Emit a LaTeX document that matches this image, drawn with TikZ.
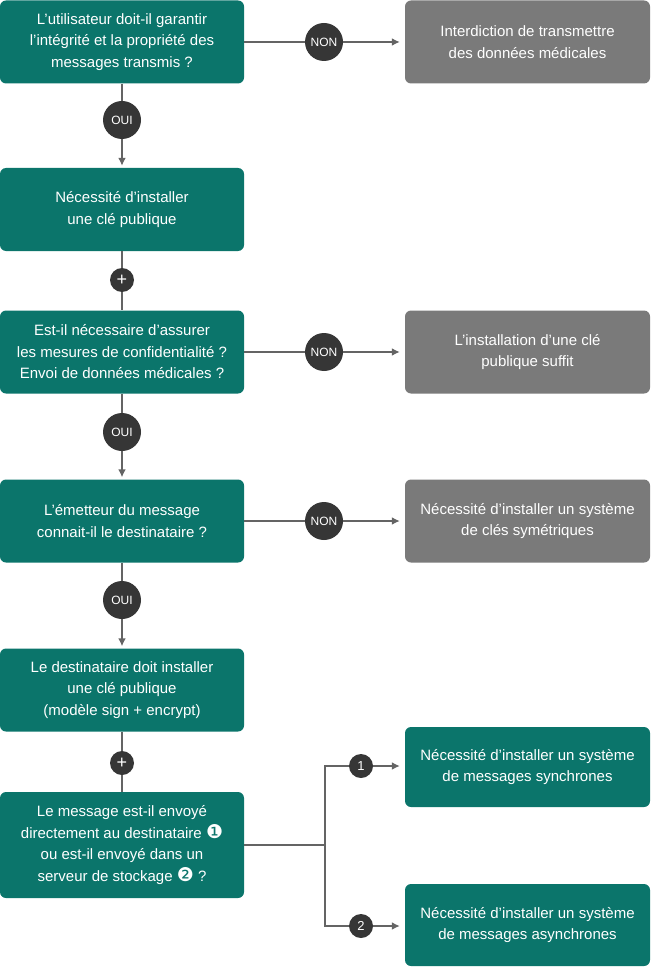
\documentclass[tikz,border=0pt]{standalone}
\usepackage{fontspec}
\setmainfont{Liberation Sans}
\newfontfamily\dejavu{DejaVu Sans}
\usetikzlibrary{arrows.meta}

\definecolor{teal1}{RGB}{11,117,107}
\definecolor{grey1}{RGB}{122,122,122}
\definecolor{dot}{RGB}{54,54,54}
\definecolor{wire}{RGB}{100,100,100}

% white dingbat number inside the question text
\newcommand{\pastille}[1]{{\dejavu\fontsize{19}{19}\selectfont\color{white}#1}}

\begin{document}
\begin{tikzpicture}[x=1pt, y=-1pt,
  every node/.style={font=\fontsize{15}{21.5}\selectfont, align=center, text=white},
  quest/.style={fill=teal1, rounded corners=6pt, minimum width=244pt, minimum height=83pt, inner sep=0pt},
  stop/.style={fill=grey1, rounded corners=6pt, minimum width=245pt, minimum height=83pt, inner sep=0pt},
  tag/.style={circle, fill=dot, minimum size=38pt, inner sep=0pt, font=\fontsize{12}{12}\selectfont},
  plus/.style={circle, fill=dot, minimum size=24pt, inner sep=0pt, font=\fontsize{18}{18}\selectfont},
  num/.style={circle, fill=dot, minimum size=24pt, inner sep=0pt, font=\fontsize{13}{13}\selectfont},
  link/.style={draw=wire, line width=1.6pt},
  arr/.style={link, -{Latex[length=8pt, width=8pt]}, shorten >=5pt}]
  \useasboundingbox (0,0) rectangle (650,968);

  \node [quest] (q1) at (122, 42) {L’utilisateur doit-il garantir\\l’intégrité et la propriété des\\messages transmis ?};
  \node [quest] (q2) at (122, 209.5) {Nécessité d’installer\\une clé publique};
  \node [quest] (q3) at (122, 352) {Est-il nécessaire d’assurer\\les mesures de confidentialité ?\\Envoi de données médicales ?};
  \node [quest] (q4) at (122, 521) {L’émetteur du message\\connait-il le destinataire ?};
  \node [quest] (q5) at (122, 690) {Le destinataire doit installer\\une clé publique\\(modèle sign + encrypt)};
  \node [quest, minimum height=106pt] (q6) at (122, 845) {Le message est-il envoyé\\directement au destinataire \pastille{❶}\\ou est-il envoyé dans un\\serveur de stockage \pastille{❷} ?};

  \node [stop] (r1) at (527.5, 42) {Interdiction de transmettre\\des données médicales};
  \node [stop] (r2) at (527.5, 352) {L’installation d’une clé\\publique suffit};
  \node [stop] (r3) at (527.5, 521) {Nécessité d’installer un système\\de clés symétriques};
  \node [quest, minimum width=245pt, minimum height=80pt] (r4) at (527.5, 767) {Nécessité d’installer un système\\de messages synchrones};
  \node [quest, minimum width=245pt, minimum height=82pt] (r5) at (527.5, 925) {Nécessité d’installer un système\\de messages asynchrones};

  \node [tag] (oui1) at (122, 120) {OUI};
  \node [tag] (oui2) at (122, 432) {OUI};
  \node [tag] (oui3) at (122, 600) {OUI};
  \node [tag] (non1) at (324, 42) {NON};
  \node [tag] (non2) at (324, 352) {NON};
  \node [tag] (non3) at (324, 521) {NON};
  \node [plus] (p1) at (122, 280) {+};
  \node [plus] (p2) at (122, 763) {+};
  \node [num] (n1) at (361, 766) {1};
  \node [num] (n2) at (361, 926) {2};
  \coordinate (fork) at (325, 845);

  \draw [link] (q1) -- (oui1);
  \draw [arr, shorten >=2pt] (oui1) -- (q2);
  \draw [link] (q2) -- (p1);
  \draw [link] (p1) -- (q3);
  \draw [link] (q3) -- (oui2);
  \draw [arr, shorten >=2pt] (oui2) -- (q4);
  \draw [link] (q4) -- (oui3);
  \draw [arr, shorten >=2pt] (oui3) -- (q5);
  \draw [link] (q5) -- (p2);
  \draw [link] (p2) -- (q6);
  \draw [link] (q1) -- (non1);
  \draw [arr] (non1) -- (r1);
  \draw [link] (q3) -- (non2);
  \draw [arr] (non2) -- (r2);
  \draw [link] (q4) -- (non3);
  \draw [arr] (non3) -- (r3);
  \draw [link] (q6) -- (fork);
  \draw [link] (fork) |- (n1);
  \draw [link] (fork) |- (n2);
  \draw [arr] (n1) -- (n1 -| r4.west);
  \draw [arr] (n2) -- (n2 -| r5.west);
\end{tikzpicture}
\end{document}
